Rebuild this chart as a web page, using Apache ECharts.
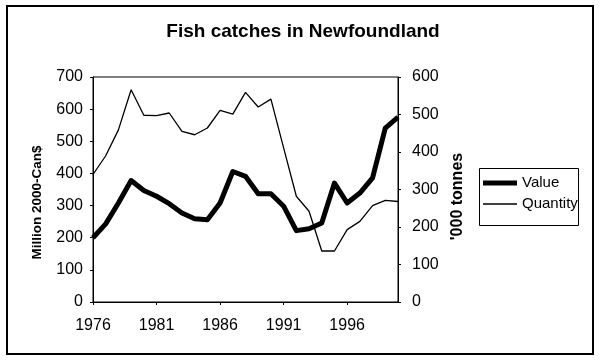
<!DOCTYPE html>
<html>
<head>
<meta charset="utf-8">
<script src="https://cdn.jsdelivr.net/npm/echarts@6/dist/echarts.min.js"></script>
<style>html,body{margin:0;padding:0;background:#fff;}#c{width:600px;height:361px;}</style>
</head>
<body>
<div id="c"></div>
<script>
var years = ['1976','1977','1978','1979','1980','1981','1982','1983','1984','1985','1986','1987','1988','1989','1990','1991','1992','1993','1994','1995','1996','1997','1998','1999','2000'];
var valueSeries = [200,243,308,378,347,329,306,277,259,256,308,406,391,337,337,298,222,228,246,370,308,339,386,541,575];
var quantitySeries = [340,390,459,566,498,497,504,455,446,464,511,501,559,520,541,411,282,242,136,136,193,215,257,271,268];
var leftTicks = {min:0, max:700, interval:100};
var rightTicks = {min:0, max:600, interval:100};

var FONT = 'Arial, "Liberation Sans", sans-serif';
var chart = echarts.init(document.getElementById('c'), null, {renderer:'canvas'});
var legendText = {fontFamily: FONT, fontSize: 15, color: '#000', lineHeight: 18};
chart.setOption({
  animation: false,
  backgroundColor: '#fff',
  textStyle: {fontFamily: FONT, color: '#000'},
  title: {
    text: 'Fish catches in Newfoundland',
    left: 298, top: 17, textAlign: 'center',
    textStyle: {fontFamily: FONT, fontWeight: 'bold', fontSize: 19, color: '#000'}
  },
  graphic: [{
    type: 'rect', shape: {x: 7, y: 6, width: 586, height: 348},
    style: {fill: null, stroke: '#000', lineWidth: 2}, silent: true, z: -1
  }, {
    type: 'rect', shape: {x: 479.5, y: 168.5, width: 99, height: 57},
    style: {fill: null, stroke: '#000', lineWidth: 1}, silent: true
  }],
  legend: [{
    orient: 'vertical', left: 483, top: 174, padding: 0,
    itemWidth: 34, itemHeight: 5, itemGap: 4, icon: 'rect',
    textStyle: legendText,
    data: ['Value']
  }, {
    orient: 'vertical', left: 483, top: 195, padding: 0,
    itemWidth: 34, itemHeight: 1.5, itemGap: 4, icon: 'rect',
    textStyle: legendText,
    data: ['Quantity']
  }],
  grid: {
    left: 93, right: 202, top: 77, bottom: 59,
    show: true, borderColor: '#000', borderWidth: 1, backgroundColor: 'transparent'
  },
  xAxis: {
    type: 'category', data: years, boundaryGap: false,
    axisLine: {lineStyle: {color: '#000', width: 1}},
    axisTick: {interval: 4, length: 3, lineStyle: {color: '#000'}},
    axisLabel: {interval: 4, fontFamily: FONT, fontSize: 16, color: '#000', margin: 16}
  },
  yAxis: [{
    type: 'value', min: leftTicks.min, max: leftTicks.max, interval: leftTicks.interval,
    name: 'Million 2000-Can$', nameLocation: 'middle', nameGap: 49, nameRotate: 90,
    nameTextStyle: {fontFamily: FONT, fontWeight: 'bold', fontSize: 13.5, color: '#000', padding: [0,0,0,-26]},
    axisLine: {show: true, lineStyle: {color: '#000'}},
    axisTick: {show: true, length: 3, lineStyle: {color: '#000'}},
    axisLabel: {fontFamily: FONT, fontSize: 16, color: '#000', margin: 10},
    splitLine: {show: false}
  }, {
    type: 'value', min: rightTicks.min, max: rightTicks.max, interval: rightTicks.interval,
    name: "'000 tonnes", nameLocation: 'middle', nameGap: 49, nameRotate: 90,
    nameTextStyle: {fontFamily: FONT, fontWeight: 'bold', fontSize: 16, color: '#000', padding: [0,0,0,-14]},
    position: 'right',
    axisLine: {show: true, lineStyle: {color: '#000'}},
    axisTick: {show: true, length: 3, lineStyle: {color: '#000'}},
    axisLabel: {fontFamily: FONT, fontSize: 16, color: '#000', margin: 14},
    splitLine: {show: false}
  }],
  series: [{
    name: 'Value', type: 'line', yAxisIndex: 0, data: valueSeries,
    symbol: 'none', lineStyle: {color: '#000', width: 5, join: 'round'},
    itemStyle: {color: '#000'}
  }, {
    name: 'Quantity', type: 'line', yAxisIndex: 1, data: quantitySeries,
    symbol: 'none', lineStyle: {color: '#000', width: 1.3},
    itemStyle: {color: '#000'}
  }]
});
</script>
</body>
</html>
